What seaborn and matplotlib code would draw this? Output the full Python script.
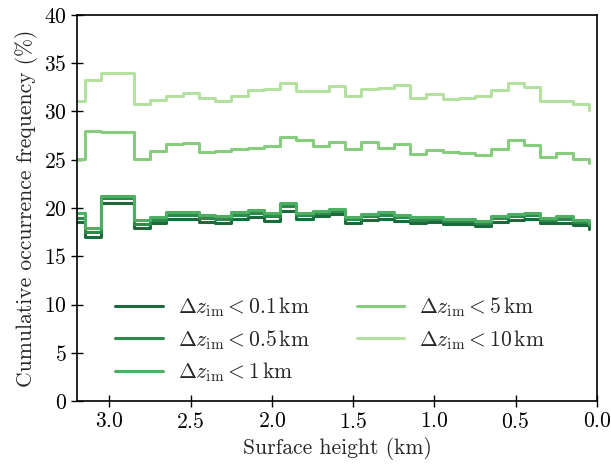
import numpy as np
import pandas as pd
import seaborn as sns
import matplotlib.pyplot as plt

sns.set_theme(style="ticks")
plt.rcParams['font.family'] = ['cmr10', 'DejaVu Serif']
plt.rcParams['mathtext.fontset'] = 'cm'
plt.rcParams['axes.formatter.use_mathtext'] = True

# bin edges (km), step drawn from 3.25 down to 0.05; last value is the end tick
edges = [3.25, 3.15, 3.05, 2.95, 2.85, 2.75, 2.65, 2.55, 2.45, 2.35, 2.25,
         2.15, 2.05, 1.95, 1.85, 1.75, 1.65, 1.55, 1.45, 1.35, 1.25, 1.15,
         1.05, 0.95, 0.85, 0.75, 0.65, 0.55, 0.45, 0.35, 0.25, 0.15, 0.05]

dz_01 = [18.6, 17.0, 20.5, 20.5, 17.9, 18.4, 18.9, 18.9, 18.6, 18.5, 18.9,
         19.1, 18.7, 19.7, 18.9, 19.2, 19.4, 18.5, 18.8, 18.9, 18.7, 18.4,
         18.6, 18.3, 18.3, 18.1, 18.6, 18.8, 18.9, 18.4, 18.5, 18.2, 17.8]
dz_05 = [19.0, 17.5, 21.0, 21.0, 18.3, 18.8, 19.3, 19.3, 19.0, 18.9, 19.3,
         19.5, 19.2, 20.2, 19.3, 19.5, 19.7, 18.9, 19.2, 19.3, 19.1, 18.8,
         18.9, 18.7, 18.7, 18.5, 19.0, 19.2, 19.3, 18.8, 18.9, 18.6, 18.2]
dz_1 = [19.5, 17.9, 21.2, 21.2, 18.8, 19.1, 19.6, 19.6, 19.3, 19.2, 19.6,
        19.8, 19.5, 20.5, 19.5, 19.7, 19.9, 19.1, 19.4, 19.6, 19.3, 19.1,
        19.1, 18.9, 18.9, 18.7, 19.2, 19.4, 19.5, 19.0, 19.2, 18.8, 18.4]
dz_5 = [25.1, 28.0, 27.9, 27.9, 25.1, 25.9, 26.6, 26.7, 25.8, 25.9, 26.1,
        26.2, 26.4, 27.4, 27.0, 26.4, 26.8, 26.1, 26.8, 26.2, 26.6, 25.6,
        26.0, 25.8, 25.7, 25.5, 26.1, 27.0, 26.5, 25.3, 25.7, 25.1, 24.7]
dz_10 = [31.1, 33.3, 34.0, 34.0, 30.8, 31.2, 31.6, 31.9, 31.4, 31.1, 31.6,
         32.2, 32.3, 32.9, 32.1, 32.1, 32.6, 31.6, 32.3, 32.4, 32.7, 31.4,
         31.8, 31.3, 31.4, 31.6, 32.2, 32.9, 32.5, 31.1, 31.1, 30.8, 30.2]

labels = [r'$\Delta z_{\mathrm{im}} < 0.1\,\mathrm{km}$',
          r'$\Delta z_{\mathrm{im}} < 0.5\,\mathrm{km}$',
          r'$\Delta z_{\mathrm{im}} < 1\,\mathrm{km}$',
          r'$\Delta z_{\mathrm{im}} < 5\,\mathrm{km}$',
          r'$\Delta z_{\mathrm{im}} < 10\,\mathrm{km}$']
colors = ['#1b6a3c', '#2e8a4c', '#4caf62', '#88cc80', '#b5e1a0']

frames = []
for lab, vals in zip(labels, [dz_01, dz_05, dz_1, dz_5, dz_10]):
    frames.append(pd.DataFrame({'height': edges, 'freq': vals, 'thr': lab}))
df = pd.concat(frames, ignore_index=True)

fig = plt.figure(figsize=(6.11, 4.67), dpi=100)
ax = fig.add_axes([0.126, 0.141, 0.851, 0.827])

sns.lineplot(data=df, x='height', y='freq', hue='thr', palette=colors,
             sort=False, estimator=None, drawstyle='steps-post',
             linewidth=2.2, ax=ax)

fs = 15.5
ax.set_xlim(3.2, 0.0)
ax.set_ylim(0, 40)
ax.set_xticks([3.0, 2.5, 2.0, 1.5, 1.0, 0.5, 0.0])
ax.set_yticks(np.arange(0, 41, 5))
ax.set_xlabel('Surface height (km)', fontsize=fs)
ax.set_ylabel('Cumulative occurrence frequency (%)', fontsize=fs)
ax.tick_params(direction='inout', length=8, width=1, labelsize=fs,
               top=False, right=False, colors='black')
for s in ax.spines.values():
    s.set_color('black')
    s.set_linewidth(1.2)

ax.legend(ncol=2, frameon=False, loc='lower left',
          bbox_to_anchor=(0.057, 0.022), borderaxespad=0, fontsize=fs,
          handlelength=2.2, handletextpad=0.7, columnspacing=2.2,
          labelspacing=0.41, title=None)

fig.savefig('out.png', dpi=100)
